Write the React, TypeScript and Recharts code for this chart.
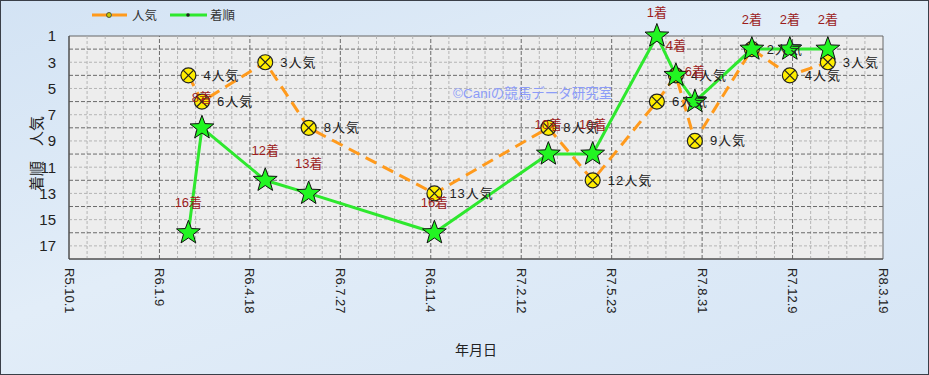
import React from 'react';
import {
  LineChart,
  Line,
  XAxis,
  YAxis,
  ReferenceLine,
  ReferenceArea,
  LabelList,
} from 'recharts';

// race dates, popularity (人気) and finishing position (着順)
const raceDates = [
  '2024-02-10', '2024-02-25', '2024-05-05', '2024-06-22', '2024-11-08',
  '2025-03-14', '2025-05-02', '2025-07-12', '2025-08-02', '2025-08-23',
  '2025-10-25', '2025-12-06', '2026-01-17',
];
const popularity = [4, 6, 3, 8, 13, 8, 12, 6, 4, 9, 2, 4, 3];
const finish = [16, 8, 12, 13, 16, 10, 10, 1, 4, 6, 2, 2, 2];

const startDate = '2023-10-01';
const xTickLabels = [
  'R5.10.1', 'R6.1.9', 'R6.4.18', 'R6.7.27', 'R6.11.4',
  'R7.2.12', 'R7.5.23', 'R7.8.31', 'R7.12.9', 'R8.3.19',
];
const xTickStep = 100;
const yTicks = [1, 3, 5, 7, 9, 11, 13, 15, 17];
const yMax = 18;

const DAY = 86400000;
const toDay = (d: string) => Math.round((Date.parse(d) - Date.parse(startDate)) / DAY);

const chartData = raceDates.map((d, i) => ({
  day: toDay(d),
  popularity: popularity[i],
  finish: finish[i],
}));

const xMax = (xTickLabels.length - 1) * xTickStep;
const xTicks = xTickLabels.map((_, i) => i * xTickStep);

// grid lines
const minorX: number[] = [];
for (let v = 20; v < xMax; v += 20) if (v % xTickStep !== 0) minorX.push(v);
const majorX = xTicks.slice(1, -1);
const minorY: number[] = [];
for (let v = 3; v < yMax; v += 2) minorY.push(v);
const majorY: number[] = [];
for (let v = 2; v < yMax; v += 2) majorY.push(v);

const FONT = "'Liberation Sans', 'Noto Sans CJK JP', sans-serif";
const ORANGE = '#ff9a1c';
const GREEN = '#2ee82e';
const RED = '#9c1d1d';

const starPoints = (cx: number, cy: number, R: number, r: number) => {
  const pts: string[] = [];
  for (let i = 0; i < 10; i++) {
    const a = -Math.PI / 2 + (i * Math.PI) / 5;
    const rad = i % 2 === 0 ? R : r;
    pts.push(`${cx + rad * Math.cos(a)},${cy + rad * Math.sin(a)}`);
  }
  return pts.join(' ');
};

const StarDot = (props: any) => {
  const { cx, cy, index } = props;
  if (cx == null || cy == null) return <g key={`s-${index}`} />;
  return (
    <polygon
      key={`s-${index}`}
      points={starPoints(cx, cy, 12.5, 5.2)}
      fill="#22f522"
      stroke="#111"
      strokeWidth={1}
    />
  );
};

const PopDot = (props: any) => {
  const { cx, cy, index } = props;
  if (cx == null || cy == null) return <g key={`p-${index}`} />;
  const d = 5.2;
  return (
    <g key={`p-${index}`}>
      <circle cx={cx} cy={cy} r={7.5} fill="#ffee00" stroke="#222" strokeWidth={1.2} />
      <line x1={cx - d} y1={cy - d} x2={cx + d} y2={cy + d} stroke="#222" strokeWidth={1.2} />
      <line x1={cx - d} y1={cy + d} x2={cx + d} y2={cy - d} stroke="#222" strokeWidth={1.2} />
    </g>
  );
};

const PopLabel = (props: any) => {
  const { x, y, value } = props;
  return (
    <text x={x + 15} y={y} dy={4.5} fill="#222" fontSize={13} fontFamily={FONT} letterSpacing={1}>
      {`${value}人気`}
    </text>
  );
};

const FinishLabel = (props: any) => {
  const { x, y, value } = props;
  // labels stay inside the chart's top edge
  const ly = Math.max(y - 30, 12);
  return (
    <text x={x} y={ly} dy={4.5} textAnchor="middle" fill={RED} fontSize={13} fontFamily={FONT}>
      {`${value}着`}
    </text>
  );
};

const XTick = (props: any) => {
  const { x, y, payload } = props;
  const label = xTickLabels[Math.round(payload.value / xTickStep)];
  return (
    <text
      x={x}
      y={y}
      transform={`rotate(90, ${x}, ${y})`}
      textAnchor="start"
      dy={4.5}
      fill="#222"
      fontSize={13}
      fontFamily={FONT}
    >
      {label}
    </text>
  );
};

const App = () => {
  return (
    <div
      style={{
        position: 'relative',
        width: 929,
        height: 375,
        background: 'linear-gradient(160deg, #d3e3f4 0%, #e2edf8 45%, #d6e5f5 100%)',
        overflow: 'hidden',
      }}
    >
      <style>{'body{margin:0}'}</style>
      <LineChart
        width={929}
        height={375}
        data={chartData}
        margin={{ top: 36, right: 46, bottom: 0, left: 0 }}
      >
        <XAxis
          dataKey="day"
          type="number"
          domain={[0, xMax]}
          ticks={xTicks}
          interval={0}
          height={116}
          tickSize={0}
          tickMargin={9}
          tick={<XTick />}
          axisLine={{ stroke: '#444' }}
          label={({ viewBox }: any) => (
            <text
              x={viewBox.x + viewBox.width / 2}
              y={viewBox.y + 91}
              dy={5}
              textAnchor="middle"
              fill="#222"
              fontSize={14}
              fontFamily={FONT}
            >
              年月日
            </text>
          )}
        />
        <YAxis
          type="number"
          domain={[1, yMax]}
          reversed
          ticks={yTicks}
          interval={0}
          width={69}
          tickSize={0}
          tickMargin={13}
          tickLine={false}
          axisLine={{ stroke: '#444' }}
          tick={{ fill: '#222', fontSize: 15, fontFamily: FONT }}
          label={({ viewBox }: any) => {
            const cx = 37;
            const cy = viewBox.y + viewBox.height / 2 + 6;
            return (
              <text
                x={cx}
                y={cy}
                transform={`rotate(-90, ${cx}, ${cy})`}
                textAnchor="middle"
                dy={5}
                fill="#222"
                fontSize={15}
                fontFamily={FONT}
              >
                着順　人気
              </text>
            );
          }}
        />
        <ReferenceArea x1={0} x2={xMax} y1={1} y2={yMax} fill="#ededed" fillOpacity={1} stroke="#666" />
        {minorX.map((v) => (
          <ReferenceLine key={`mx${v}`} x={v} stroke="#b5b5b5" strokeDasharray="3 2" />
        ))}
        {minorY.map((v) => (
          <ReferenceLine key={`my${v}`} y={v} stroke="#b5b5b5" strokeDasharray="3 2" />
        ))}
        {majorX.map((v) => (
          <ReferenceLine key={`Mx${v}`} x={v} stroke="#6a6a6a" strokeDasharray="4 2" />
        ))}
        {majorY.map((v) => (
          <ReferenceLine key={`My${v}`} y={v} stroke="#6a6a6a" strokeDasharray="4 2" />
        ))}
        <Line
          type="linear"
          dataKey="popularity"
          stroke={ORANGE}
          strokeWidth={3}
          strokeDasharray="12 7"
          dot={PopDot}
          activeDot={false}
          isAnimationActive={false}
        >
          <LabelList dataKey="popularity" content={PopLabel} />
        </Line>
        <Line
          type="linear"
          dataKey="finish"
          stroke={GREEN}
          strokeWidth={3}
          dot={StarDot}
          activeDot={false}
          isAnimationActive={false}
        >
          <LabelList dataKey="finish" content={FinishLabel} />
        </Line>
      </LineChart>

      {/* legend */}
      <div style={{ position: 'absolute', left: 88, top: 4, width: 160, height: 22 }}>
        <svg width={160} height={22}>
          <line x1={4} y1={11} x2={40} y2={11} stroke={ORANGE} strokeWidth={3} strokeDasharray="15 5" />
          <circle cx={21} cy={11} r={2.5} fill="#c8c800" stroke="#333" strokeWidth={0.8} />
          <text x={44} y={15.5} fontSize={12.5} fill="#333" fontFamily={FONT}>人気</text>
          <line x1={82} y1={11} x2={119} y2={11} stroke={GREEN} strokeWidth={3} />
          <circle cx={100} cy={11} r={1.8} fill="#222" />
          <text x={122} y={15.5} fontSize={12.5} fill="#333" fontFamily={FONT}>着順</text>
        </svg>
      </div>

      {/* watermark */}
      <div
        style={{
          position: 'absolute',
          left: 453,
          top: 82,
          fontSize: 13.5,
          color: '#8c9cf8',
          fontFamily: FONT,
          whiteSpace: 'nowrap',
        }}
      >
        ©Caniの競馬データ研究室
      </div>

      <div
        style={{
          position: 'absolute',
          inset: 0,
          border: '1.5px solid #3a3f48',
          pointerEvents: 'none',
        }}
      />
    </div>
  );
};

export default App;
